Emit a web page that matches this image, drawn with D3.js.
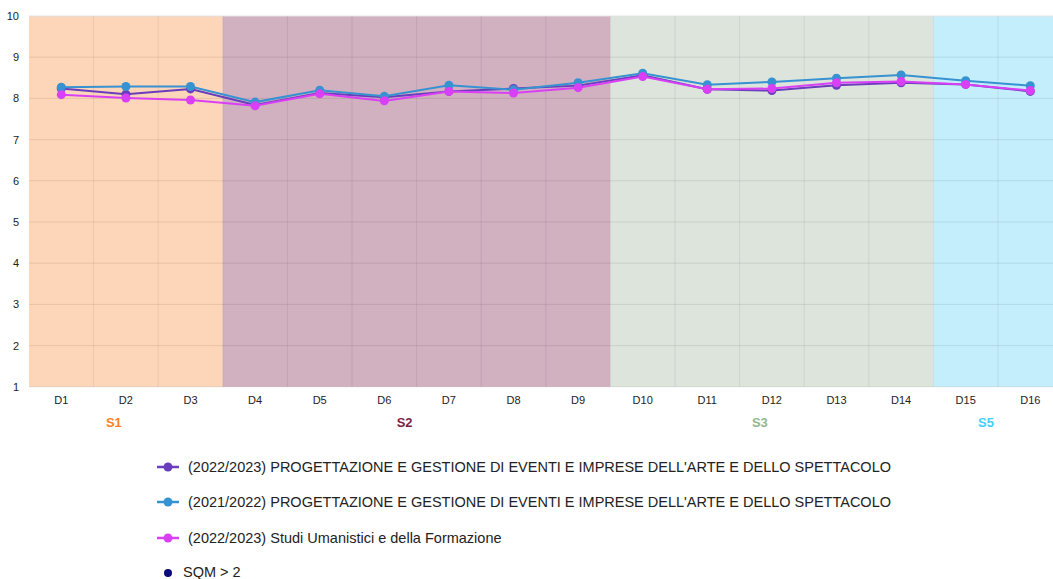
<!DOCTYPE html>
<html>
<head>
<meta charset="utf-8">
<script src="https://cdn.jsdelivr.net/npm/d3@7"></script>
<style>
  html, body { margin: 0; padding: 0; background: #fff; overflow: hidden; }
  svg { display: block; font-family: "Liberation Sans", Arial, Helvetica, sans-serif; }
</style>
</head>
<body>
<svg id="chart" width="1053" height="579"></svg>
<script>
// ---- data ----
const categories = ["D1","D2","D3","D4","D5","D6","D7","D8","D9","D10","D11","D12","D13","D14","D15","D16"];
const seriesNames = [
  "(2022/2023) PROGETTAZIONE E GESTIONE DI EVENTI E IMPRESE DELL'ARTE E DELLO SPETTACOLO",
  "(2021/2022) PROGETTAZIONE E GESTIONE DI EVENTI E IMPRESE DELL'ARTE E DELLO SPETTACOLO",
  "(2022/2023) Studi Umanistici e della Formazione"
];
const progettazione2223 = [8.24, 8.10, 8.23, 7.84, 8.13, 8.03, 8.17, 8.24, 8.31, 8.56, 8.22, 8.19, 8.32, 8.38, 8.34, 8.17];
const progettazione2122 = [8.27, 8.29, 8.29, 7.91, 8.20, 8.05, 8.32, 8.21, 8.38, 8.61, 8.33, 8.40, 8.49, 8.57, 8.43, 8.31];
const studiUmanistici2223 = [8.09, 8.01, 7.96, 7.82, 8.11, 7.94, 8.17, 8.13, 8.26, 8.53, 8.22, 8.24, 8.38, 8.41, 8.34, 8.19];
const sections = [
  { label: "S1", from: "D1", to: "D3" },
  { label: "S2", from: "D4", to: "D9" },
  { label: "S3", from: "D10", to: "D14" },
  { label: "S5", from: "D15", to: "D16" }
];
const yTicks = [1,2,3,4,5,6,7,8,9,10];
const extraLegend = "SQM > 2";

// ---- styles ----
const seriesColors = ["#6a3dbd", "#3792d1", "#d940f5"];
const sectionFill = { S1: "#fdd5b9", S2: "#d1b0c0", S3: "#dce4dc", S5: "#c4eefb" };
const sectionText = { S1: "#ff7f2a", S2: "#7a1e48", S3: "#90b890", S5: "#3fd0fb" };

const svg = d3.select("#chart");
const mLeft = 29, mTop = 16, bandW = 64.6, mBottom = 386.8;
const x = d3.scaleBand().domain(categories).range([mLeft, mLeft + bandW * categories.length]).padding(0);
const y = d3.scaleLinear().domain([1, 10]).range([mBottom, mTop]);

// sections background
const g = svg.append("g");
sections.forEach(s => {
  const x0 = x(s.from), x1 = x(s.to) + x.bandwidth();
  g.append("rect").attr("x", x0).attr("y", y(10)).attr("width", x1 - x0).attr("height", y(1) - y(10))
    .attr("fill", sectionFill[s.label]);
  svg.append("text").attr("x", (x0 + x1) / 2 - 12)
    .attr("y", 427).attr("text-anchor", "middle")
    .attr("font-size", 13).attr("font-weight", "bold").attr("fill", sectionText[s.label]).text(s.label);
});

// gridlines
yTicks.forEach(t => {
  g.append("line").attr("x1", mLeft).attr("x2", x.range()[1]).attr("y1", y(t)).attr("y2", y(t))
    .attr("stroke", t === 10 ? "#e2e2e2" : "rgba(0,0,0,0.09)").attr("stroke-width", 1);
});
categories.forEach((c, i) => {
  if (i === 0) return;
  g.append("line").attr("x1", x(c)).attr("x2", x(c)).attr("y1", y(10)).attr("y2", y(1))
    .attr("stroke", "rgba(0,0,0,0.07)").attr("stroke-width", 1);
});

// y axis labels
const yAxis = d3.axisLeft(y).tickValues(yTicks).tickSize(0).tickPadding(10).tickFormat(d3.format("d"));
const ya = svg.append("g").attr("transform", `translate(${mLeft},0)`).call(yAxis);
ya.select(".domain").remove();
ya.selectAll("text").attr("font-size", 11).attr("fill", "#222").attr("font-family", "Liberation Sans, Arial, sans-serif");

// x axis labels
const xAxis = d3.axisBottom(x).tickSize(0).tickPadding(9);
const xa = svg.append("g").attr("transform", `translate(0,${mBottom})`).call(xAxis);
xa.select(".domain").remove();
xa.selectAll("text").attr("font-size", 11).attr("fill", "#222").attr("font-family", "Liberation Sans, Arial, sans-serif");

// lines
const allSeries = [progettazione2223, progettazione2122, studiUmanistici2223];
const line = d3.line().x((d, i) => x(categories[i]) + x.bandwidth() / 2).y(d => y(d));
[0, 1, 2].forEach(si => {
  const data = allSeries[si];
  svg.append("path").datum(data).attr("d", line).attr("fill", "none")
    .attr("stroke", seriesColors[si]).attr("stroke-width", 2);
  svg.selectAll(null).data(data).enter().append("circle")
    .attr("cx", (d, i) => x(categories[i]) + x.bandwidth() / 2).attr("cy", d => y(d))
    .attr("r", 4.5).attr("fill", seriesColors[si]);
});

// legend
const legY = [467, 502, 538];
seriesNames.forEach((name, i) => {
  const lg = svg.append("g").attr("transform", `translate(157,${legY[i]})`);
  lg.append("line").attr("x1", 0).attr("x2", 22).attr("y1", 0).attr("y2", 0)
    .attr("stroke", seriesColors[i]).attr("stroke-width", 2.5);
  lg.append("circle").attr("cx", 11).attr("cy", 0).attr("r", 4.5).attr("fill", seriesColors[i]);
  lg.append("text").attr("x", 31).attr("y", 5).attr("font-size", 14.5).attr("fill", "#222").text(name);
});
const lg4 = svg.append("g").attr("transform", "translate(157,573)");
lg4.append("circle").attr("cx", 11).attr("cy", 0).attr("r", 4).attr("fill", "#0b0b7a");
lg4.append("text").attr("x", 26).attr("y", 4).attr("font-size", 14.5).attr("fill", "#222").text(extraLegend);
</script>
</body>
</html>
